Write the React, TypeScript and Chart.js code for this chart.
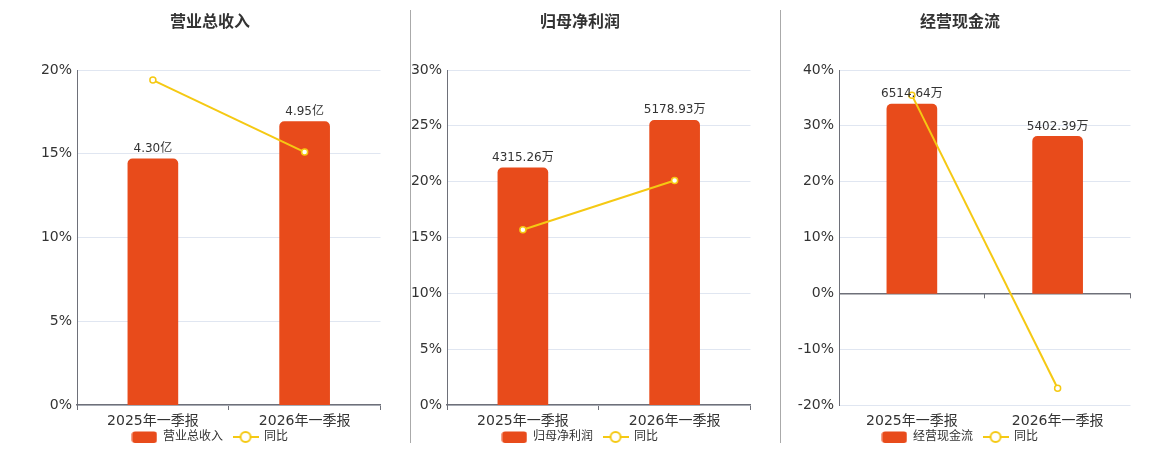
import React, { useEffect, useRef } from 'react';
import { Chart, registerables } from 'chart.js';

Chart.register(...registerables);

const categories = ['2025年一季报', '2026年一季报'];

const revenueTitle = '营业总收入';
const revenueValues = [4.3, 4.95];
const revenueLabels = ['4.30亿', '4.95亿'];
const revenueYoY = [19.4, 15.1];

const profitTitle = '归母净利润';
const profitValues = [4315.26, 5178.93];
const profitLabels = ['4315.26万', '5178.93万'];
const profitYoY = [15.7, 20.1];

const cashTitle = '经营现金流';
const cashValues = [6514.64, 5402.39];
const cashLabels = ['6514.64万', '5402.39万'];
const cashYoY = [35.5, -17.0];

const yoyName = '同比';

const FONT = '"DejaVu Sans", "Noto Sans CJK SC", sans-serif';
const BAR = '#E84B1B';
const LINE = '#F5C913';
const AXIS = '#6E7079';
const GRID = '#E0E6F1';
const TEXT = '#333333';

const X_AXIS_H = 27;
const CANVAS_H = 464;

function makeIcon(kind: 'bar' | 'line'): HTMLCanvasElement {
  const c = document.createElement('canvas');
  c.width = 26;
  c.height = 14;
  const g = c.getContext('2d')!;
  if (kind === 'bar') {
    g.fillStyle = BAR;
    g.beginPath();
    (g as any).roundRect(0.5, 1.5, 25, 11.5, 3);
    g.fill();
  } else {
    g.strokeStyle = LINE;
    g.lineWidth = 2;
    g.beginPath();
    g.moveTo(0, 7);
    g.lineTo(26, 7);
    g.stroke();
    g.fillStyle = '#fff';
    g.beginPath();
    g.arc(13, 7, 5, 0, Math.PI * 2);
    g.fill();
    g.stroke();
  }
  return c;
}

interface PanelCfg {
  title: string;
  values: number[];
  labels: string[];
  yoy: number[];
  pMin: number;
  pMax: number;
  pStep: number;
  bMin: number;
  bMax: number;
  axisWidth: number;
  zeroAxis: boolean;
}

const labelPlugin = {
  id: 'barLabels',
  afterDatasetsDraw(chart: any, _a: any, opts: any) {
    const meta = chart.getDatasetMeta(0);
    const ctx = chart.ctx;
    ctx.save();
    ctx.font = `12px ${FONT}`;
    ctx.fillStyle = TEXT;
    ctx.textAlign = 'center';
    ctx.textBaseline = 'bottom';
    meta.data.forEach((el: any, i: number) => {
      ctx.fillText(opts.labels[i], el.x, el.y - 4);
    });
    ctx.restore();
  },
};

const zeroTickPlugin = {
  id: 'zeroTicks',
  afterDraw(chart: any, _a: any, opts: any) {
    if (!opts.enabled) return;
    const x = chart.scales.x;
    const y = chart.scales.y;
    const y0 = y.getPixelForValue(0);
    const n = x.ticks.length;
    const w = (x.right - x.left) / n;
    const ctx = chart.ctx;
    ctx.save();
    ctx.strokeStyle = AXIS;
    ctx.lineWidth = 1;
    for (let i = 1; i <= n; i++) {
      const px = Math.round(x.left + w * i) - 0.5;
      ctx.beginPath();
      ctx.moveTo(px, y0);
      ctx.lineTo(px, y0 + 5);
      ctx.stroke();
    }
    ctx.restore();
  },
};

const legendShift = {
  id: 'legendShift',
  afterLayout(chart: any) {
    if (chart.legend) {
      chart.legend.top -= 11;
      chart.legend.bottom -= 11;
    }
  },
};

function Panel({ cfg, left, width }: { cfg: PanelCfg; left: number; width: number }) {
  const ref = useRef<HTMLCanvasElement>(null);
  useEffect(() => {
    const barIcon = makeIcon('bar');
    const lineIcon = makeIcon('line');
    const chart = new Chart(ref.current!, {
      type: 'bar',
      data: {
        labels: categories,
        datasets: [
          {
            type: 'bar',
            label: cfg.title,
            data: cfg.values,
            yAxisID: 'y1',
            backgroundColor: BAR,
            barThickness: 50,
            borderRadius: 5,
            borderSkipped: 'start',
            order: 2,
          },
          {
            type: 'line',
            label: yoyName,
            data: cfg.yoy,
            yAxisID: 'y',
            borderColor: LINE,
            borderWidth: 2,
            pointRadius: 3,
            pointBackgroundColor: '#ffffff',
            pointBorderColor: LINE,
            pointBorderWidth: 1.5,
            order: 1,
          } as any,
        ],
      },
      options: {
        animation: false,
        responsive: true,
        maintainAspectRatio: false,
        layout: { padding: 0 },
        plugins: {
          title: {
            display: true,
            text: cfg.title,
            color: TEXT,
            font: { family: FONT, size: 16, weight: 'bold' },
            padding: { top: 13, bottom: 37.8 },
          },
          legend: {
            display: true,
            position: 'bottom',
            labels: {
              usePointStyle: true,
              pointStyleWidth: 25,
              boxHeight: 12,
              padding: 10,
              color: TEXT,
              font: { family: FONT, size: 12 },
              generateLabels: () => [
                { text: cfg.title, pointStyle: barIcon, datasetIndex: 0, fillStyle: BAR, strokeStyle: BAR, lineWidth: 0, hidden: false, fontColor: TEXT } as any,
                { text: yoyName, pointStyle: lineIcon, datasetIndex: 1, fillStyle: LINE, strokeStyle: LINE, lineWidth: 0, hidden: false, fontColor: TEXT } as any,
              ],
            },
          },
          tooltip: { enabled: false },
          barLabels: { labels: cfg.labels },
          zeroTicks: { enabled: cfg.zeroAxis },
        } as any,
        scales: {
          x: {
            grid: {
              display: !cfg.zeroAxis,
              drawOnChartArea: false,
              drawTicks: true,
              tickLength: 5,
              color: AXIS,
            },
            border: { display: !cfg.zeroAxis, color: AXIS, width: 1.5 },
            ticks: {
              color: TEXT,
              font: { family: FONT, size: 14 },
              padding: 3,
            },
            afterFit: (s: any) => {
              s.height = X_AXIS_H;
            },
          },
          y: {
            min: cfg.pMin,
            max: cfg.pMax,
            ticks: {
              stepSize: cfg.pStep,
              color: TEXT,
              padding: 5,
              font: { family: FONT, size: 14 },
              callback: (v: any) => `${v}%`,
            },
            grid: {
              drawTicks: false,
              color: (c: any) => (cfg.zeroAxis && c.tick && c.tick.value === 0 ? AXIS : GRID),
              lineWidth: (c: any) => (cfg.zeroAxis && c.tick && c.tick.value === 0 ? 1.5 : 1),
            },
            border: { color: AXIS, width: 1 },
            afterFit: (s: any) => {
              s.width = cfg.axisWidth;
            },
          },
          y1: {
            display: false,
            min: cfg.bMin,
            max: cfg.bMax,
          },
        },
      },
      plugins: [labelPlugin, zeroTickPlugin, legendShift],
    });
    return () => chart.destroy();
  }, []);
  return (
    <div style={{ position: 'absolute', left, top: 0, width, height: CANVAS_H }}>
      <canvas ref={ref} />
    </div>
  );
}

const panels: { cfg: PanelCfg; left: number; width: number }[] = [
  {
    left: 34,
    width: 352,
    cfg: {
      title: revenueTitle, values: revenueValues, labels: revenueLabels, yoy: revenueYoY,
      pMin: 0, pMax: 20, pStep: 5, bMin: 0, bMax: 5.85,
      axisWidth: 43, zeroAxis: false,
    },
  },
  {
    left: 404,
    width: 352,
    cfg: {
      title: profitTitle, values: profitValues, labels: profitLabels, yoy: profitYoY,
      pMin: 0, pMax: 30, pStep: 5, bMin: 0, bMax: 6093,
      axisWidth: 43, zeroAxis: false,
    },
  },
  {
    left: 784,
    width: 352,
    cfg: {
      title: cashTitle, values: cashValues, labels: cashLabels, yoy: cashYoY,
      pMin: -20, pMax: 40, pStep: 10, bMin: -3843.5, bMax: 7687,
      axisWidth: 55, zeroAxis: true,
    },
  },
];

export default function App() {
  return (
    <div style={{ position: 'absolute', left: 0, top: 0, width: 1160, height: 450, overflow: 'hidden', background: '#fff' }}>
      {panels.map((p, i) => (
        <Panel key={i} cfg={p.cfg} left={p.left} width={p.width} />
      ))}
      <div style={{ position: 'absolute', left: 410, top: 10, width: 1, height: 433, background: '#AAAAAA' }} />
      <div style={{ position: 'absolute', left: 780, top: 10, width: 1, height: 433, background: '#AAAAAA' }} />
    </div>
  );
}
